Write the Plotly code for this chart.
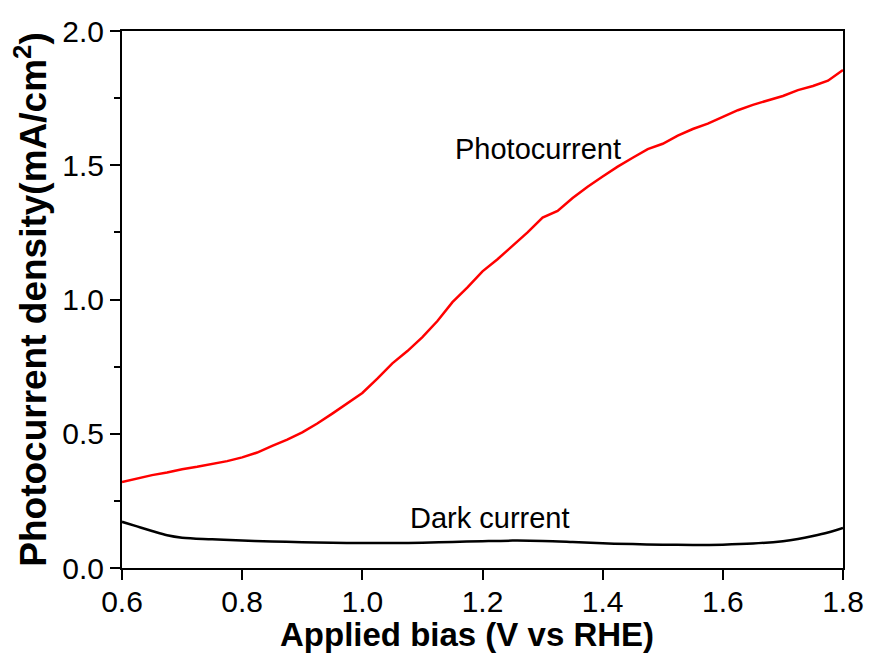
import plotly.graph_objects as go

# Photocurrent under illumination (mA/cm^2) vs applied bias (V vs RHE)
bias_photo = [0.600, 0.625, 0.650, 0.675, 0.700, 0.725, 0.750, 0.775, 0.800, 0.825,
              0.850, 0.875, 0.900, 0.925, 0.950, 0.975, 1.000, 1.025, 1.050, 1.075,
              1.100, 1.125, 1.150, 1.175, 1.200, 1.225, 1.250, 1.275, 1.300, 1.325,
              1.350, 1.375, 1.400, 1.425, 1.450, 1.475, 1.500, 1.525, 1.550, 1.575,
              1.600, 1.625, 1.650, 1.675, 1.700, 1.725, 1.750, 1.775, 1.800]
photocurrent = [0.320, 0.333, 0.346, 0.356, 0.368, 0.377, 0.388, 0.398, 0.412, 0.430,
                0.455, 0.478, 0.505, 0.538, 0.575, 0.612, 0.652, 0.705, 0.762, 0.808,
                0.860, 0.920, 0.990, 1.045, 1.105, 1.150, 1.200, 1.250, 1.305, 1.330,
                1.378, 1.420, 1.458, 1.495, 1.528, 1.560, 1.580, 1.610, 1.635, 1.655,
                1.680, 1.705, 1.725, 1.742, 1.758, 1.780, 1.795, 1.815, 1.855]

# Dark current (mA/cm^2)
bias_dark = [0.600, 0.625, 0.650, 0.675, 0.700, 0.750, 0.800, 0.850, 0.900, 0.950,
             1.000, 1.050, 1.100, 1.150, 1.200, 1.250, 1.300, 1.350, 1.400, 1.450,
             1.500, 1.550, 1.600, 1.650, 1.700, 1.725, 1.750, 1.775, 1.800]
dark_current = [0.172, 0.155, 0.138, 0.122, 0.113, 0.107, 0.102, 0.099, 0.096, 0.094,
                0.093, 0.093, 0.094, 0.097, 0.100, 0.102, 0.101, 0.097, 0.092, 0.089,
                0.087, 0.086, 0.087, 0.091, 0.100, 0.108, 0.119, 0.132, 0.149]

x_ticks = [0.6, 0.8, 1.0, 1.2, 1.4, 1.6, 1.8]
y_ticks = [0.0, 0.5, 1.0, 1.5, 2.0]

FONT = "Liberation Sans, Arial, sans-serif"

fig = go.Figure()
fig.add_trace(go.Scatter(x=bias_photo, y=photocurrent, mode="lines",
                         line=dict(color="#ff0000", width=2.5), showlegend=False))
fig.add_trace(go.Scatter(x=bias_dark, y=dark_current, mode="lines",
                         line=dict(color="#000000", width=2.5, shape="spline"),
                         showlegend=False))

fig.add_annotation(x=1.292, y=1.56, text="Photocurrent", showarrow=False,
                   font=dict(family=FONT, size=29, color="black"),
                   xanchor="center", yanchor="middle")
fig.add_annotation(x=1.212, y=0.185, text="Dark current", showarrow=False,
                   font=dict(family=FONT, size=29, color="black"),
                   xanchor="center", yanchor="middle")
# x-axis title placed just under the tick labels
fig.add_annotation(xref="paper", yref="paper", x=0.478, y=-0.123,
                   text="<b>Applied bias (V vs RHE)</b>", showarrow=False,
                   font=dict(family=FONT, size=33, color="black"),
                   xanchor="center", yanchor="middle")

fig.update_layout(
    width=869, height=657,
    margin=dict(l=122, r=26, t=31, b=89, autoexpand=False),
    paper_bgcolor="white", plot_bgcolor="white",
    font=dict(family=FONT, color="black"),
    xaxis=dict(
        range=[0.6, 1.8], tickvals=x_ticks, ticktext=[f"{v:.1f}" for v in x_ticks],
        showgrid=False, zeroline=False, showline=True, linecolor="black", linewidth=2,
        mirror=True, ticks="outside", ticklen=10, tickwidth=2, tickcolor="black",
        tickfont=dict(family=FONT, size=30), automargin=False, ticklabelstandoff=-4,
    ),
    yaxis=dict(
        range=[0.0, 2.0], tickvals=y_ticks, ticktext=[f"{v:.1f}" for v in y_ticks],
        showgrid=False, zeroline=False, showline=True, linecolor="black", linewidth=2,
        mirror=True, ticks="outside", ticklen=10, tickwidth=2, tickcolor="black",
        minor=dict(ticks="outside", ticklen=6, tickwidth=2, tickcolor="black",
                   tickvals=[0.25, 0.75, 1.25, 1.75], showgrid=False),
        tickfont=dict(family=FONT, size=30), automargin=False,
        title=dict(text="<b>Photocurrent density(mA/cm<sup>2</sup>)</b>",
                   font=dict(family=FONT, size=37), standoff=4),
    ),
    yaxis2=dict(
        overlaying="y", side="right", range=[0.0, 2.0], showgrid=False, zeroline=False,
        showline=False, ticks="inside", ticklen=3, tickwidth=1.5, tickcolor="black",
        tickvals=[0.25, 0.5, 0.75, 1.0, 1.25, 1.5, 1.75], showticklabels=False,
        automargin=False,
    ),
)

fig.write_html("out.html")
